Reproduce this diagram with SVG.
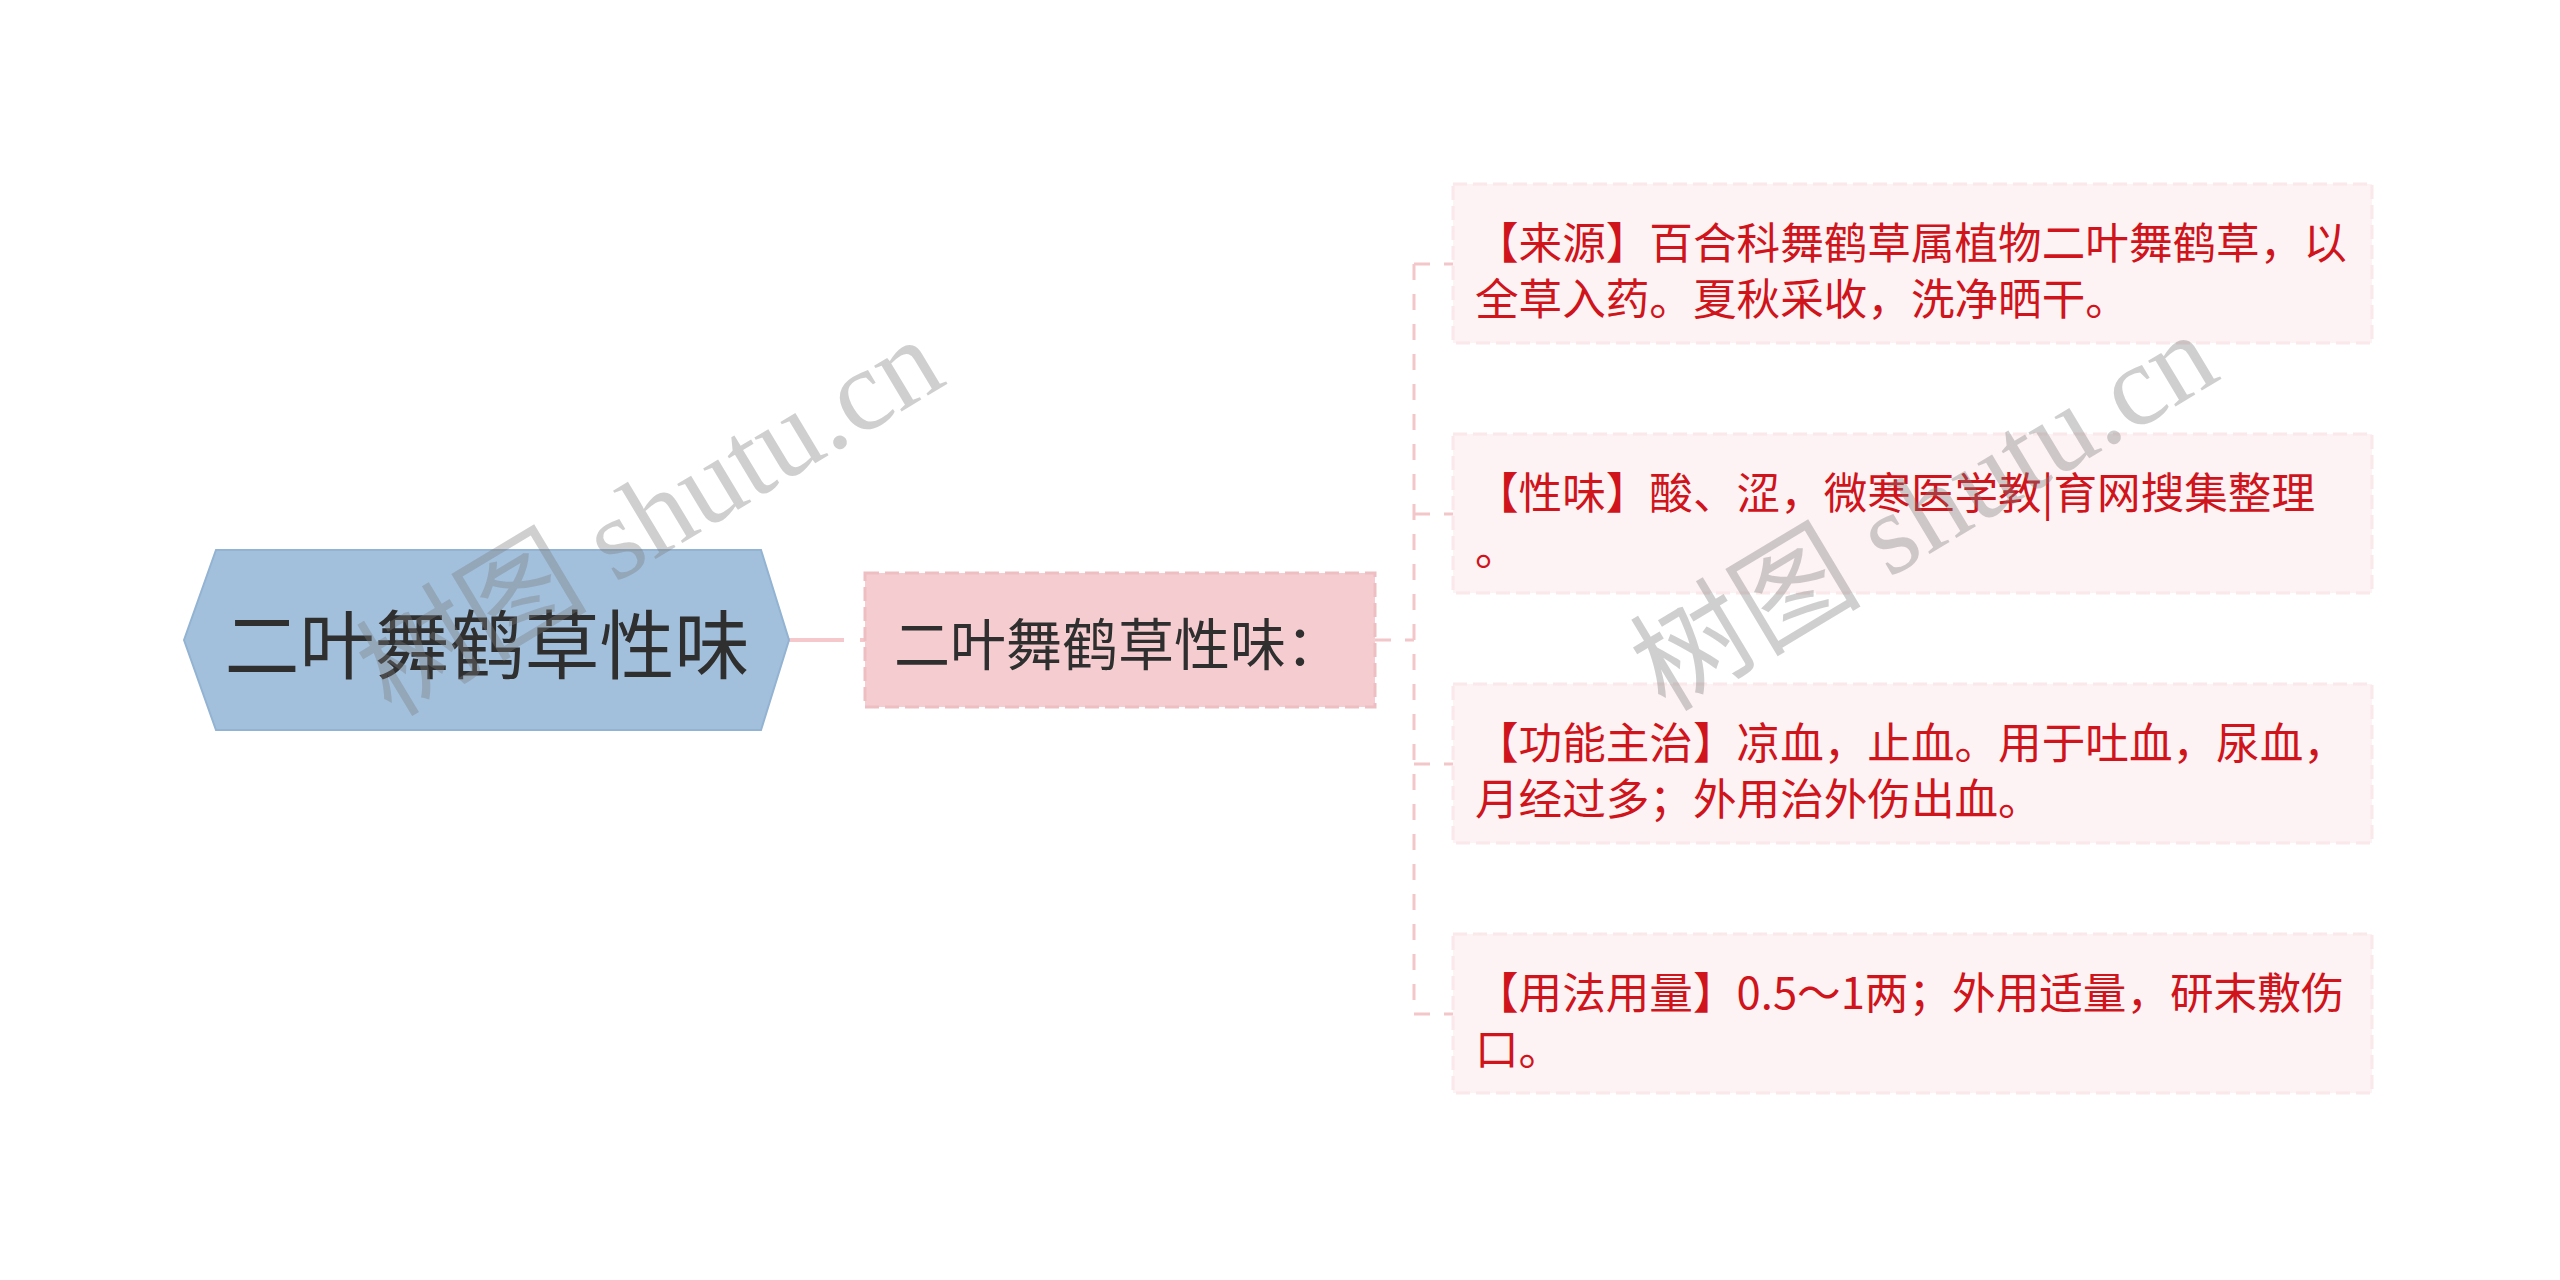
<svg xmlns="http://www.w3.org/2000/svg" width="2560" height="1280" viewBox="0 0 2560 1280">
<style>
.cjk{font-family:"Noto Sans CJK SC","Noto Sans",sans-serif}
.root-t{font-size:75px;fill:#2f2f2f}
.mid-t{font-size:56px;fill:#2f2f2f}
.leaf{fill:#fdf3f4;stroke:#fae8ea;stroke-width:3;stroke-dasharray:14 6}
.leaf-t{font-size:43.6px;fill:#d0141c}
.conn{fill:none;stroke:#f3c6ca;stroke-width:3;stroke-dasharray:16 14}
.wm{font-family:"Liberation Serif","Noto Sans CJK SC",serif;font-size:116px;fill:#7a7a7a;fill-opacity:0.36}
</style>
<rect width="2560" height="1280" fill="#ffffff"/>
<g id="connectors">
<path d="M789 640 H865" fill="none" stroke="#f5c9cc" stroke-width="4" stroke-dasharray="55 16"/>
<path class="conn" d="M1375 640 H1414"/>
<path class="conn" d="M1414 264 V1014"/>
<path class="conn" d="M1414 264 H1453"/>
<path class="conn" d="M1414 514 H1453"/>
<path class="conn" d="M1414 764 H1453"/>
<path class="conn" d="M1414 1014 H1453"/>
</g>
<g id="root">
<polygon points="184,640 216,550 761,550 789,640 761,730 216,730" fill="#a2c0dc" stroke="#93b3d2" stroke-width="2"/>
<text class="cjk root-t" x="487" y="640" text-anchor="middle" dominant-baseline="central">二叶舞鹤草性味</text>
</g>
<g id="mid">
<rect x="865" y="573" width="510" height="134" fill="#f5cdd0" stroke="#edbfc3" stroke-width="3" stroke-dasharray="14 6"/>
<text class="cjk mid-t" x="894" y="640" dominant-baseline="central">二叶舞鹤草性味：</text>
</g>
<g id="leaf1">
<rect class="leaf" x="1453" y="184" width="919" height="159"/>
<text class="cjk leaf-t" x="1475" y="240" dominant-baseline="central">【来源】百合科舞鹤草属植物二叶舞鹤草，以</text>
<text class="cjk leaf-t" x="1475" y="296" dominant-baseline="central">全草入药。夏秋采收，洗净晒干。</text>
</g>
<g id="leaf2">
<rect class="leaf" x="1453" y="434" width="919" height="159"/>
<text class="cjk leaf-t" x="1475" y="490" dominant-baseline="central">【性味】酸、涩，微寒医学教|育网搜集整理</text>
<text class="cjk leaf-t" x="1475" y="546" dominant-baseline="central">。</text>
</g>
<g id="leaf3">
<rect class="leaf" x="1453" y="684" width="919" height="159"/>
<text class="cjk leaf-t" x="1475" y="740" dominant-baseline="central">【功能主治】凉血，止血。用于吐血，尿血，</text>
<text class="cjk leaf-t" x="1475" y="796" dominant-baseline="central">月经过多；外用治外伤出血。</text>
</g>
<g id="leaf4">
<rect class="leaf" x="1453" y="934" width="919" height="159"/>
<text class="cjk leaf-t" x="1475" y="990" dominant-baseline="central">【用法用量】0.5～1两；外用适量，研末敷伤</text>
<text class="cjk leaf-t" x="1475" y="1046" dominant-baseline="central">口。</text>
</g>
<g id="watermarks">
<text class="wm" x="650" y="517" text-anchor="middle" dominant-baseline="central" transform="rotate(-31 650 517)">树图 shutu.cn</text>
<text class="wm" x="1924" y="512" text-anchor="middle" dominant-baseline="central" transform="rotate(-31 1924 512)">树图 shutu.cn</text>
</g>
</svg>
